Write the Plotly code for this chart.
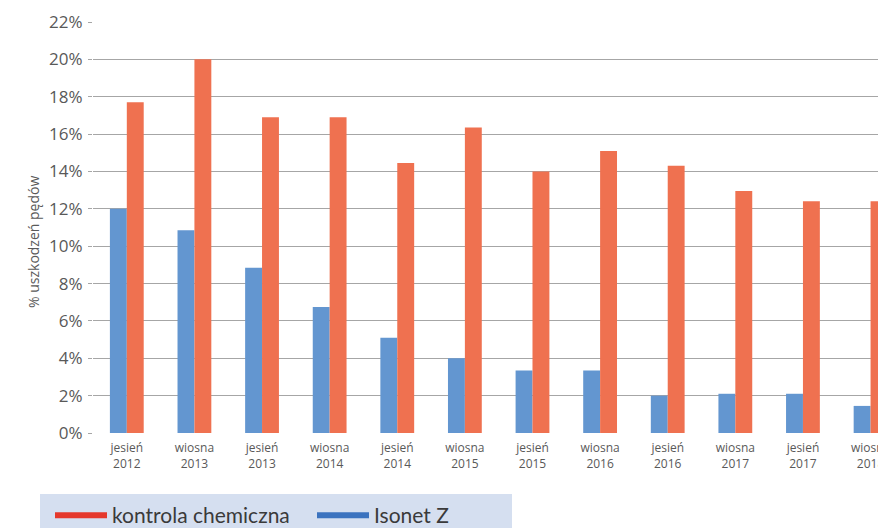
import plotly.graph_objects as go

categories = ["jesień<br>2012", "wiosna<br>2013", "jesień<br>2013", "wiosna<br>2014",
              "jesień<br>2014", "wiosna<br>2015", "jesień<br>2015", "wiosna<br>2016",
              "jesień<br>2016", "wiosna<br>2017", "jesień<br>2017", "wiosna<br>2018"]
isonet_z = [12.0, 10.85, 8.85, 6.75, 5.1, 4.0, 3.35, 3.35, 2.0, 2.1, 2.1, 1.45]
kontrola = [17.7, 20.0, 16.9, 16.9, 14.45, 16.35, 14.0, 15.1, 14.3, 12.95, 12.4, 12.4]
y_ticks = [0, 2, 4, 6, 8, 10, 12, 14, 16, 18, 20, 22]
y_labels = [f"{v}%" for v in y_ticks]

W, H = 878, 528
ml, mr, mt, mb = 93, 0, 22, 95
pw, ph = W - ml - mr, H - mt - mb

def px_x(px):
    return (px - ml) / pw

def px_y(py):
    return (H - mb - py) / ph

fig = go.Figure()
fig.add_trace(go.Bar(x=categories, y=isonet_z, name="Isonet Z", marker_color="#6396d0",
                     marker_line_width=0, showlegend=False))
fig.add_trace(go.Bar(x=categories, y=kontrola, name="kontrola chemiczna", marker_color="#ef7150",
                     marker_line_width=0, showlegend=False))
# legend entries
fig.add_trace(go.Scatter(x=[None], y=[None], mode="lines", name="kontrola chemiczna",
                         line=dict(color="#e5382c", width=6)))
fig.add_trace(go.Scatter(x=[None], y=[None], mode="lines", name="Isonet Z",
                         line=dict(color="#3b73bf", width=6)))

fig.add_shape(type="rect", xref="paper", yref="paper",
              x0=px_x(40), x1=px_x(512), y0=px_y(494), y1=px_y(545),
              fillcolor="#d5dff0", line_width=0, layer="below")

fig.add_annotation(text="% uszkodzeń pędów", xref="paper", yref="paper",
                   x=px_x(33), y=px_y(242), textangle=-90, showarrow=False,
                   xanchor="center", yanchor="middle",
                   font=dict(family="Open Sans, sans-serif", size=14, color="#595959"))

fig.update_layout(
    width=W, height=H,
    margin=dict(l=ml, r=mr, t=mt, b=mb, autoexpand=False),
    paper_bgcolor="white", plot_bgcolor="white",
    barmode="group", bargap=0.5, bargroupgap=0,
    font=dict(family="Open Sans, sans-serif", color="#595959"),
    xaxis=dict(type="category", range=[-0.5, 11.11], showgrid=False, automargin=False,
               tickfont=dict(size=12, color="#595959"), ticks="", showline=False,
               ticklabelstandoff=6),
    yaxis=dict(range=[0, 22], tickvals=y_ticks, ticktext=y_labels, automargin=False,
               tickfont=dict(size=17, color="#595959"),
               showgrid=True, gridcolor="#a6a6a6", gridwidth=1,
               ticks="outside", ticklen=4, tickcolor="#a6a6a6",
               zeroline=False, showline=False, ticklabelstandoff=2),
    legend=dict(orientation="h", x=px_x(50), y=px_y(495), xanchor="left", yanchor="top",
                bgcolor="rgba(0,0,0,0)",
                font=dict(family="Lato, sans-serif", size=21, color="#3a3a3a"),
                itemwidth=52, entrywidth=195, entrywidthmode="pixels", traceorder="normal"),
)

fig.write_html("out.html", config={"displayModeBar": False},
               post_script="document.body.style.margin='0';document.body.style.overflow='hidden';")
